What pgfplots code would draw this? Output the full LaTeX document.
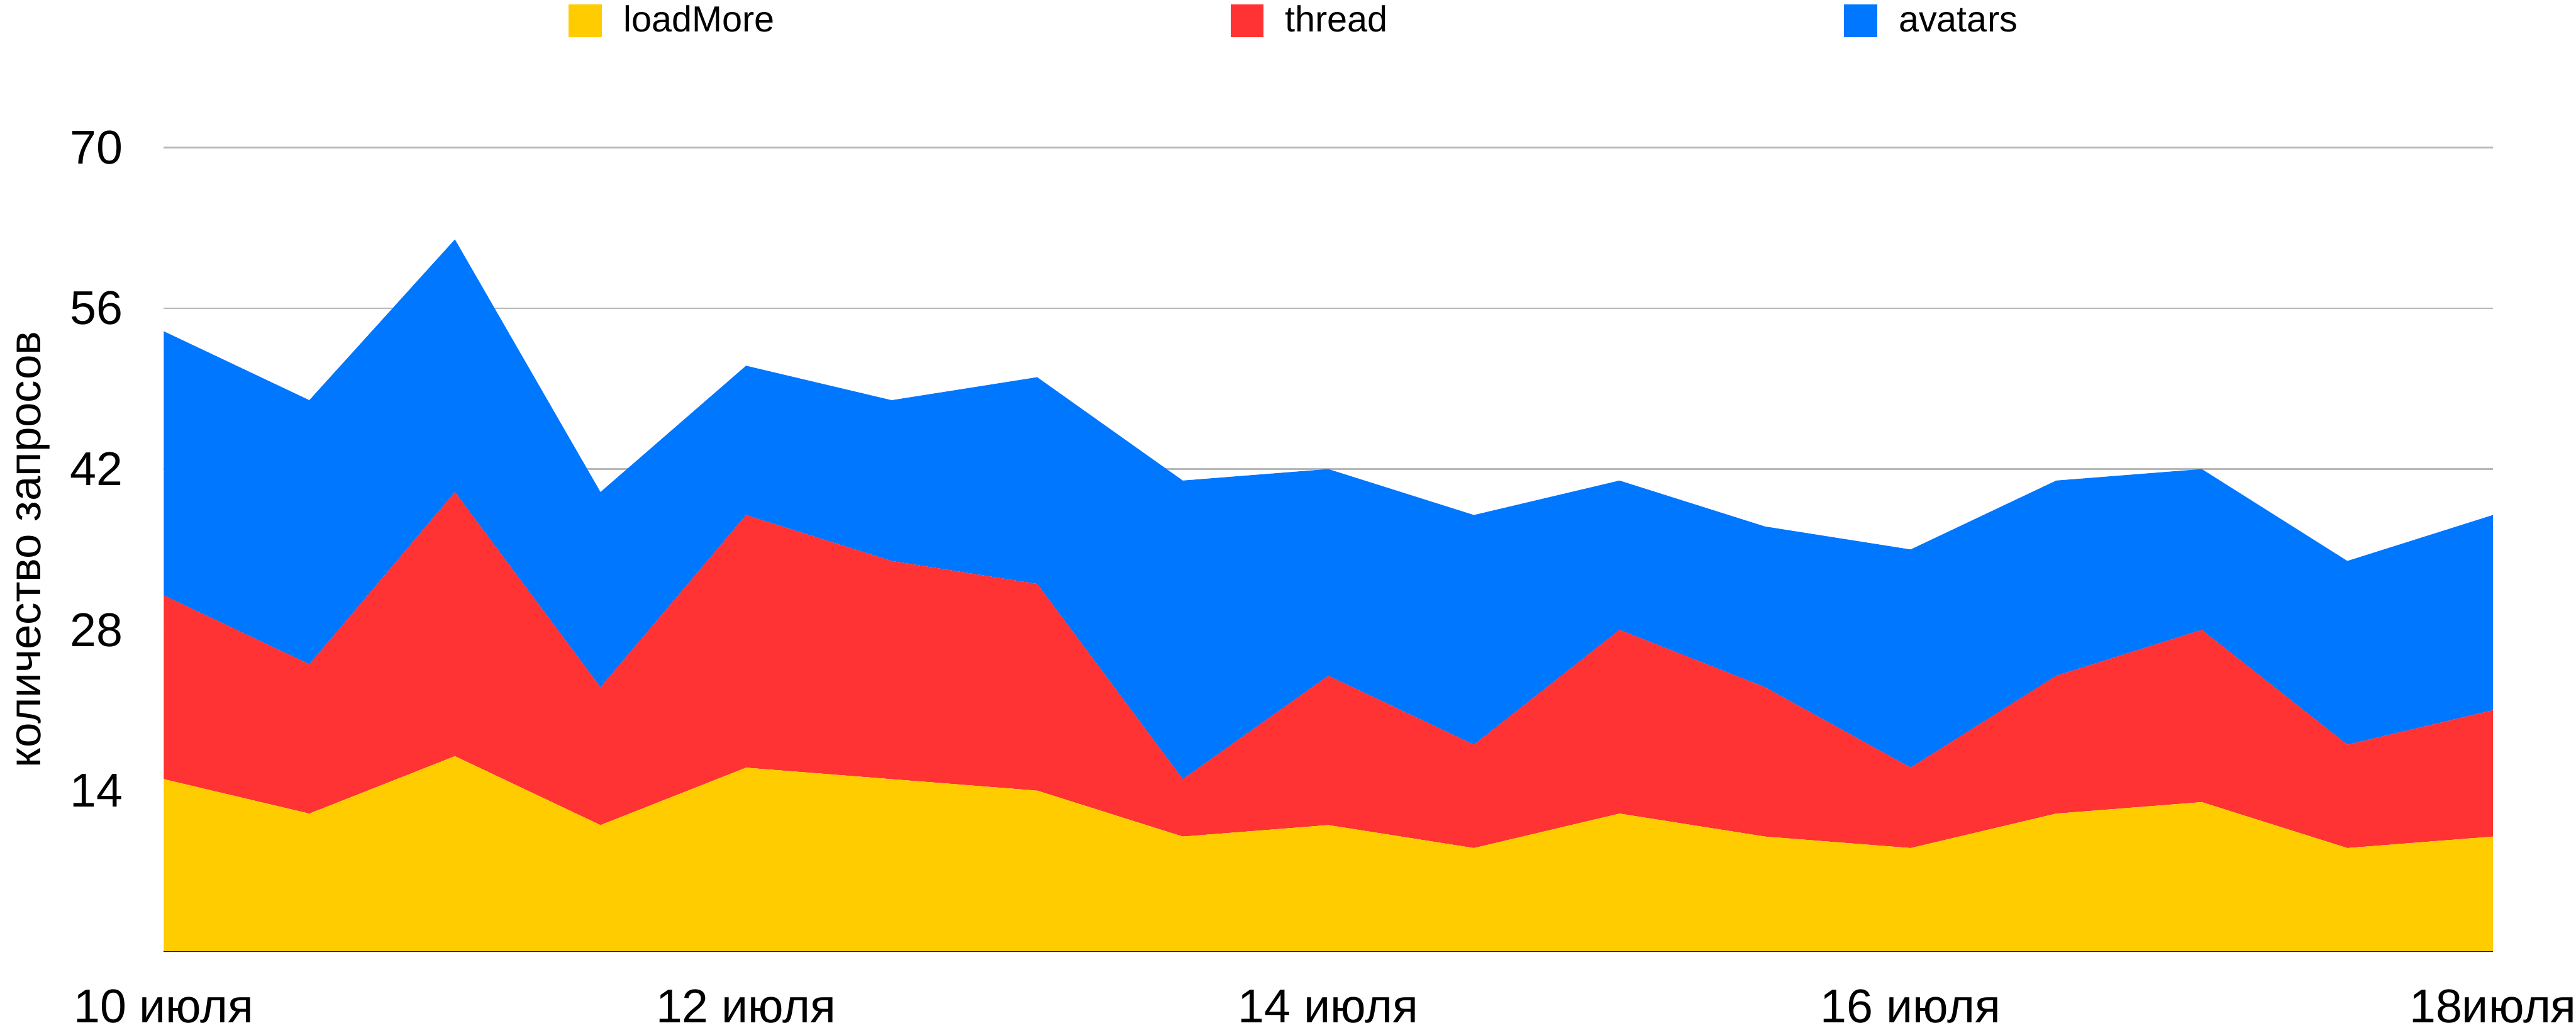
\documentclass[border=0pt]{standalone}
\usepackage{fontspec}
\setmainfont{Liberation Sans}
\usepackage{pgfplots}
\pgfplotsset{compat=1.18}
\usepackage{pgfplotstable}

\definecolor{cLoad}{RGB}{255,204,0}
\definecolor{cThread}{RGB}{255,51,51}
\definecolor{cAvatars}{RGB}{0,119,255}
\definecolor{gridgray}{RGB}{184,184,184}

% requests per half-day, 10--18 July
\pgfplotstableread{
idx loadMore thread avatars
0   15 16 23
1   12 13 23
2   17 23 22
3   11 12 17
4   16 22 13
5   15 19 14
6   14 18 18
7   10  5 26
8   11 13 18
9    9  9 20
10  12 16 13
11  10 13 14
12   9  7 19
13  12 12 17
14  13 15 14
15   9  9 16
16  10 11 17
}\requests

\begin{document}
\begin{tikzpicture}
\useasboundingbox (-58.74pt,-27.4pt) rectangle (865.26pt,341.14pt);
\begin{axis}[
  at={(0pt,0pt)}, anchor=south west,
  scale only axis,
  width=835.46pt, height=288.24pt,
  xmin=0, xmax=16, ymin=0, ymax=70,
  enlargelimits=false,
  stack plots=y,
  axis x line=bottom, axis y line=left,
  x axis line style={-, black, line width=0.4pt},
  y axis line style={draw=none},
  tick style={draw=none},
  xtick={0,4,8,12,16},
  xticklabels={10 июля,12 июля,14 июля,16 июля,18июля},
  ytick={14,28,42,56,70},
  ymajorgrids,
  major grid style={color=gridgray, line width=0.5pt},
  /pgf/number format/assume math mode=true,
  tick label style={font=\fontsize{17}{20}\selectfont, inner sep=0pt},
  xticklabel style={anchor=base, yshift=-23.4pt},
  yticklabel style={anchor=east, xshift=-12.4pt},
  ylabel={количество запросов},
  every axis y label/.style={at={(axis description cs:0,0.5)}, xshift=-44.3pt,
    rotate=90, anchor=base, inner sep=0pt, font=\fontsize{16}{19}\selectfont},
  legend columns=3,
  legend image code/.code={\fill[#1] (0pt,-5.9pt) rectangle (11.8pt,5.9pt);},
  legend style={at={(0.17387,1.1577)}, anchor=west, draw=none, fill=none,
    inner sep=0pt, outer sep=0pt,
    font=\fontsize{13}{15}\selectfont,
    nodes={inner sep=0pt, outer sep=0pt},
    /tikz/every odd column/.append style={column sep=7.8pt},
    /tikz/every even column/.append style={column sep=163.6pt}},
]
\addplot[draw=none, fill=cLoad] table[x=idx, y=loadMore] {\requests} \closedcycle;
\addplot[draw=none, fill=cThread] table[x=idx, y=thread] {\requests} \closedcycle;
\addplot[draw=none, fill=cAvatars] table[x=idx, y=avatars] {\requests} \closedcycle;
\legend{\vphantom{l}loadMore, \vphantom{l}thread, \vphantom{l}avatars}
\end{axis}
\end{tikzpicture}
\end{document}
